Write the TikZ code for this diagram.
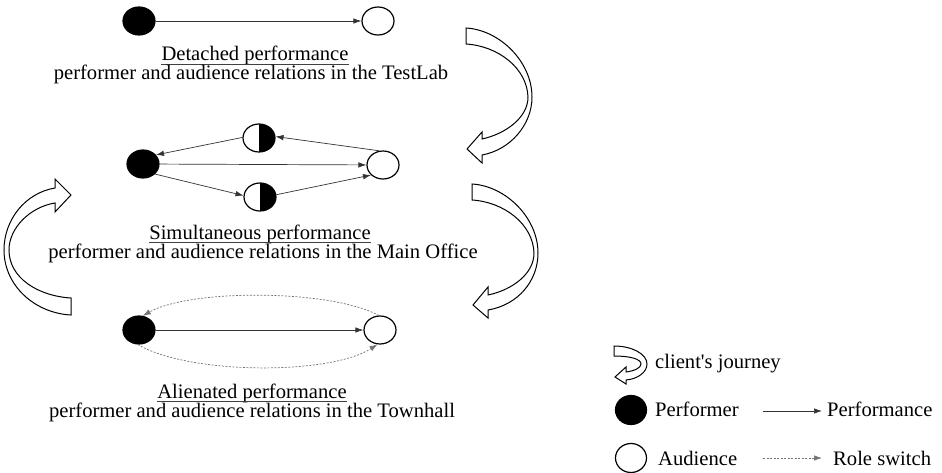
\documentclass[tikz,border=0pt]{standalone}
\usepackage{fontspec}
\setmainfont{Liberation Serif}
\usetikzlibrary{arrows.meta,shapes.geometric}
\begin{document}
\begin{tikzpicture}[x=1pt,y=-1pt,
  every node/.style={font=\fontsize{20.6}{19}\selectfont, inner sep=0pt},
  actor/.style={ellipse, draw=black, line width=1.2pt, minimum width=32pt, minimum height=28pt},
  perf/.style={actor, fill=black},
  aud/.style={actor, fill=white},
  half/.style={actor, fill=white, path picture={\fill[black] (path picture bounding box.north) rectangle (path picture bounding box.south east);}},
  rel/.style={draw=black!80, line width=0.7pt, -{Latex[length=8pt,width=5.5pt]}},
  switch/.style={rel, draw=black!55, dash pattern=on 2pt off 1.5pt},
  journey/.style={draw=black, line width=1pt, fill=white, line join=miter},
  captxt/.style={anchor=base},
  uline/.style={draw=black!75, line width=0.8pt},
  leg/.style={anchor=base west},
  legdot/.style={ellipse, draw=black, line width=1.2pt, minimum width=31pt, minimum height=29pt},
]
\useasboundingbox (0,0) rectangle (942,473);

% detached
\node[perf] (d1) at (139,21) {};
\node[aud] (d2) at (378,21) {};
\draw[rel] (d1) -- (d2);
\node[captxt] (d1t) at (255,61) {Detached performance};
\draw[uline] ([yshift=-3pt]d1t.base west) -- ([yshift=-3pt]d1t.base east);
\node[captxt] (d2t) at (251,80) {performer and audience relations in the TestLab};

% simultaneous
\node[perf] (s1) at (143,164) {};
\node[half] (s2) at (259,138) {};
\node[half] (s3) at (260,197) {};
\node[aud] (s4) at (383,165) {};
\draw[rel] (s1) -- (s4);
\draw[rel] (s1.-40) -- (s3.175);
\draw[rel] (s3.8) -- (s4.220);
\draw[rel] (s4.105) -- (s2.5);
\draw[rel] (s2.178) -- (s1.35);
\node[captxt] (s1t) at (260,239) {Simultaneous performance};
\draw[uline] ([yshift=-3pt]s1t.base west) -- ([yshift=-3pt]s1t.base east);
\node[captxt] (s2t) at (263,258) {performer and audience relations in the Main Office};

% alienated
\node[perf] (a1) at (139,330) {};
\node[aud] (a2) at (380,330) {};
\draw[rel] (a1) -- (a2);
\draw[switch] (a2.95) .. controls (330,289) and (190,289) .. (a1.75);
\draw[switch] (a1.-95) .. controls (190,375) and (330,375) .. (a2.-100);
\node[captxt] (a1t) at (252,398) {Alienated performance};
\draw[uline] ([yshift=-3pt]a1t.base west) -- ([yshift=-3pt]a1t.base east);
\node[captxt] (a2t) at (252,417) {performer and audience relations in the Townhall};

% client's journey arrows
\draw[journey] (466,28) -- (466,44) .. controls (498,46) and (527,68) .. (528,97)
  .. controls (528,118) and (505,134) .. (482,139) -- (482,132) -- (467,149) -- (482,163) -- (482,155)
  .. controls (510,150) and (532,125) .. (532,97) .. controls (532,62) and (500,30) .. (466,28) -- cycle;
\draw[journey] (472,184) -- (472,200) .. controls (504,202) and (533,224) .. (534,253)
  .. controls (534,274) and (512,290) .. (488,295) -- (488,287) -- (473,305) -- (488,318) -- (488,310)
  .. controls (518,305) and (538,281) .. (538,253) .. controls (538,218) and (506,186) .. (472,184) -- cycle;
\draw[journey] (71,315) -- (71,298) .. controls (38,296) and (9,278) .. (9,250)
  .. controls (9,228) and (30,207) .. (55,203) -- (55,212) -- (71,195) -- (55,179) -- (55,188)
  .. controls (25,193) and (4,220) .. (4,250) .. controls (4,285) and (34,313) .. (71,315) -- cycle;

% legend
\draw[journey] (614,346) -- (614,356) .. controls (630,356) and (641,359) .. (641,364)
  .. controls (641,368) and (634,371) .. (626,372) -- (626,367) -- (615,377) -- (626,384) -- (626,380)
  .. controls (638,379) and (647,372) .. (647,364) .. controls (647,354) and (632,346) .. (614,346) -- cycle;
\node[leg] (lj) at (655,368) {client\textquotesingle s journey};
\node[legdot, fill=black] (lp) at (631,410) {};
\node[leg] (lpt) at (655,416) {Performer};
\node[legdot, fill=white] (la) at (631,458) {};
\node[leg] (lat) at (658,465) {Audience};
\coordinate (r1a) at (763,411);
\coordinate (r1b) at (822,411);
\coordinate (r2a) at (763,458);
\coordinate (r2b) at (822,458);
\draw[rel] (r1a) -- (r1b);
\draw[switch] (r2a) -- (r2b);
\node[leg] (rt1) at (827,416) {Performance};
\node[leg] (rt2) at (833,465) {Role switch};
\end{tikzpicture}
\end{document}
